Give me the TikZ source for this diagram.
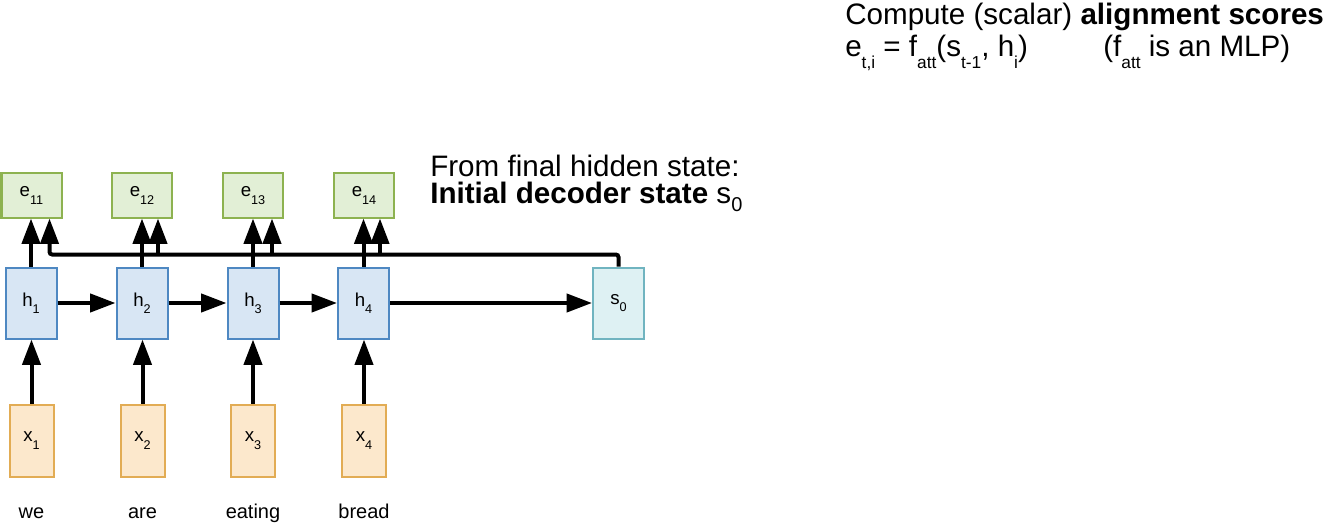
\documentclass[tikz,border=0pt]{standalone}
\usepackage{fontspec}
\setmainfont{Liberation Sans}
\usetikzlibrary{arrows.meta,calc}
\definecolor{egreenfill}{RGB}{226,239,214}
\definecolor{egreendraw}{RGB}{141,178,80}
\definecolor{hbluefill}{RGB}{216,230,244}
\definecolor{hbluedraw}{RGB}{78,136,194}
\definecolor{steelfill}{RGB}{222,241,243}
\definecolor{steeldraw}{RGB}{112,180,192}
\definecolor{xorangefill}{RGB}{252,232,204}
\definecolor{xorangedraw}{RGB}{226,172,84}
\newcommand{\mysub}[3]{\raisebox{-#2}{\fontsize{#1}{#1}\selectfont #3}}
\newcommand{\bsub}[1]{\mysub{9.5pt}{5.5pt}{#1}}
\newcommand{\tsub}[1]{\mysub{13pt}{8.5pt}{#1}}
\begin{document}
\begin{tikzpicture}[x=0.75pt,y=-0.75pt,
  box/.style={draw, line width=1.5pt, inner sep=0pt, font=\fontsize{14pt}{14pt}\selectfont},
  ebox/.style={box, fill=egreenfill, draw=egreendraw, minimum width=45pt, minimum height=33pt},
  hbox/.style={box, fill=hbluefill, draw=hbluedraw, minimum width=38.25pt, minimum height=53.25pt},
  sbox/.style={box, fill=steelfill, draw=steeldraw, minimum width=38.25pt, minimum height=53.25pt},
  xbox/.style={box, fill=xorangefill, draw=xorangedraw, minimum width=33pt, minimum height=54pt},
  conn/.style={line width=3pt, -{Triangle[length=19pt,width=13.5pt]}},
  word/.style={anchor=base, inner sep=0pt, font=\fontsize{15pt}{15pt}\selectfont},
  bigtext/.style={anchor=base west, inner sep=0pt, font=\fontsize{22.2pt}{22.2pt}\selectfont}
]
\useasboundingbox (0,0) rectangle (1327,524);

% boxes
\node[ebox] (e1) at (31.5,195.5) {e\bsub{11}};
\node[ebox] (e2) at (142,195.5) {e\bsub{12}};
\node[ebox] (e3) at (253,195.5) {e\bsub{13}};
\node[ebox] (e4) at (364,195.5) {e\bsub{14}};

\node[hbox] (h1) at (31,303) {h\bsub{1}};
\node[hbox] (h2) at (142,303) {h\bsub{2}};
\node[hbox] (h3) at (253,303) {h\bsub{3}};
\node[hbox] (h4) at (363.5,303) {h\bsub{4}};
\node[sbox] (s0) at (618.5,303) {s\bsub{0}};

\node[xbox] (x1) at (31.5,440.5) {x\bsub{1}};
\node[xbox] (x2) at (142.5,440.5) {x\bsub{2}};
\node[xbox] (x3) at (253,440.5) {x\bsub{3}};
\node[xbox] (x4) at (364,440.5) {x\bsub{4}};

% words
\node[word] (w1) at (31.5,518) {we};
\node[word] (w2) at (142.5,518) {are};
\node[word] (w3) at (253,518) {eating};
\node[word] (w4) at (364,518) {bread};

% inputs
\foreach \i in {1,2,3,4}{
  \draw[conn] (x\i.north) -- (x\i.north |- h\i.south);
  \draw[conn] (h\i.north) -- (h\i.north |- e\i.south);
}
% recurrence
\draw[conn] (h1.east) -- (h2.west);
\draw[conn] (h2.east) -- (h3.west);
\draw[conn] (h3.east) -- (h4.west);
\draw[conn] (h4.east) -- (s0.west);

% decoder state bus
\coordinate (bus) at ($(s0.north)+(0,-12)$);
\coordinate (r1) at ($(e1.south)+(18,0)$);
\coordinate (r2) at ($(e2.south)+(16,0)$);
\coordinate (r3) at ($(e3.south)+(19,0)$);
\coordinate (r4) at ($(e4.south)+(16,0)$);
\draw[conn, rounded corners=2pt] (s0.north) -- (bus) -- (bus -| r1) -- (r1);
\draw[conn] (r2 |- bus) -- (r2);
\draw[conn] (r3 |- bus) -- (r3);
\draw[conn] (r4 |- bus) -- (r4);

% texts
\node[bigtext, align=left, font=\fontsize{22.2pt}{20pt}\selectfont] (t1) at (430,203)
  {From final hidden state:\\\textbf{Initial decoder state} s\mysub{15pt}{6pt}{0}};
\node[bigtext] (t3) at (845,25) {Compute (scalar) \textbf{alignment scores}};
\node[bigtext] (t4) at (845,57) {e\tsub{t,i} = f\tsub{att}(s\tsub{t-1}, h\tsub{i})};
\node[bigtext] (t5) at (1103,57) {(f\tsub{att} is an MLP)};
\end{tikzpicture}
\end{document}
